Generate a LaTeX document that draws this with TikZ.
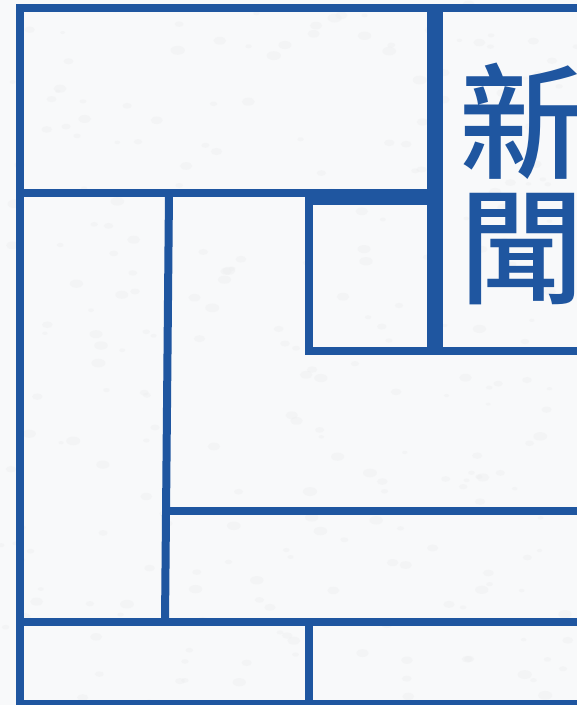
\documentclass[tikz,border=0pt]{standalone}
\usepackage{fontspec}
\newfontfamily\cjk{Noto Sans CJK TC Medium}
\usetikzlibrary{calc,backgrounds}
\definecolor{NBlue}{HTML}{1F56A0}
\definecolor{NPaper}{HTML}{F8F9FA}
\definecolor{NSpeck}{HTML}{EEEFF0}
\tikzset{
    rule/.style = {draw=NBlue, line width=8pt},
    heavyrule/.style = {draw=NBlue, line width=16pt},
    title/.style = {text=NBlue, inner sep=0pt, anchor=base west,
        font=\cjk\fontsize{125}{132}\selectfont}
}
\begin{document}
\begin{tikzpicture}[x=1pt,y=-1pt]
                \useasboundingbox (0,0) rectangle (577,705);
                \clip (0,0) rectangle (577,705);
                \fill[NPaper] (0,0) rectangle (577,705);
                % paper speckles
                \pgfmathsetseed{17}
                \foreach \i in {1,...,260} {
                    \pgfmathsetmacro{\px}{577*rnd}
                    \pgfmathsetmacro{\py}{705*rnd}
                    \pgfmathsetmacro{\pr}{1.5+3*rnd}
                    \fill[NSpeck,opacity=.45] (\px,\py) ellipse ({\pr*1.6} and \pr);
                }
         % outer frame
         \draw[rule] (20,8) rectangle (620,704);
         % top left panel and masthead column
         \draw[rule,line width=8.5pt] (20,193) -- (435,193);
         \draw[heavyrule] (435,8) -- (435,351);
         \draw[rule] (309,201) rectangle (435,351);
         \draw[rule] (309,351) -- (620,351);
         % left column
         \draw[rule] (169,193) -- (165,622);
         \draw[rule] (167,511) -- (620,511);
         \draw[rule] (20,622) -- (620,622);
         \draw[rule] (309,622) -- (309,704);
         % masthead
         \node[title] (shin) at (459,169) {新};
         \node[title] (bun) at (459,294) {聞};
            \end{tikzpicture}
\end{document}
